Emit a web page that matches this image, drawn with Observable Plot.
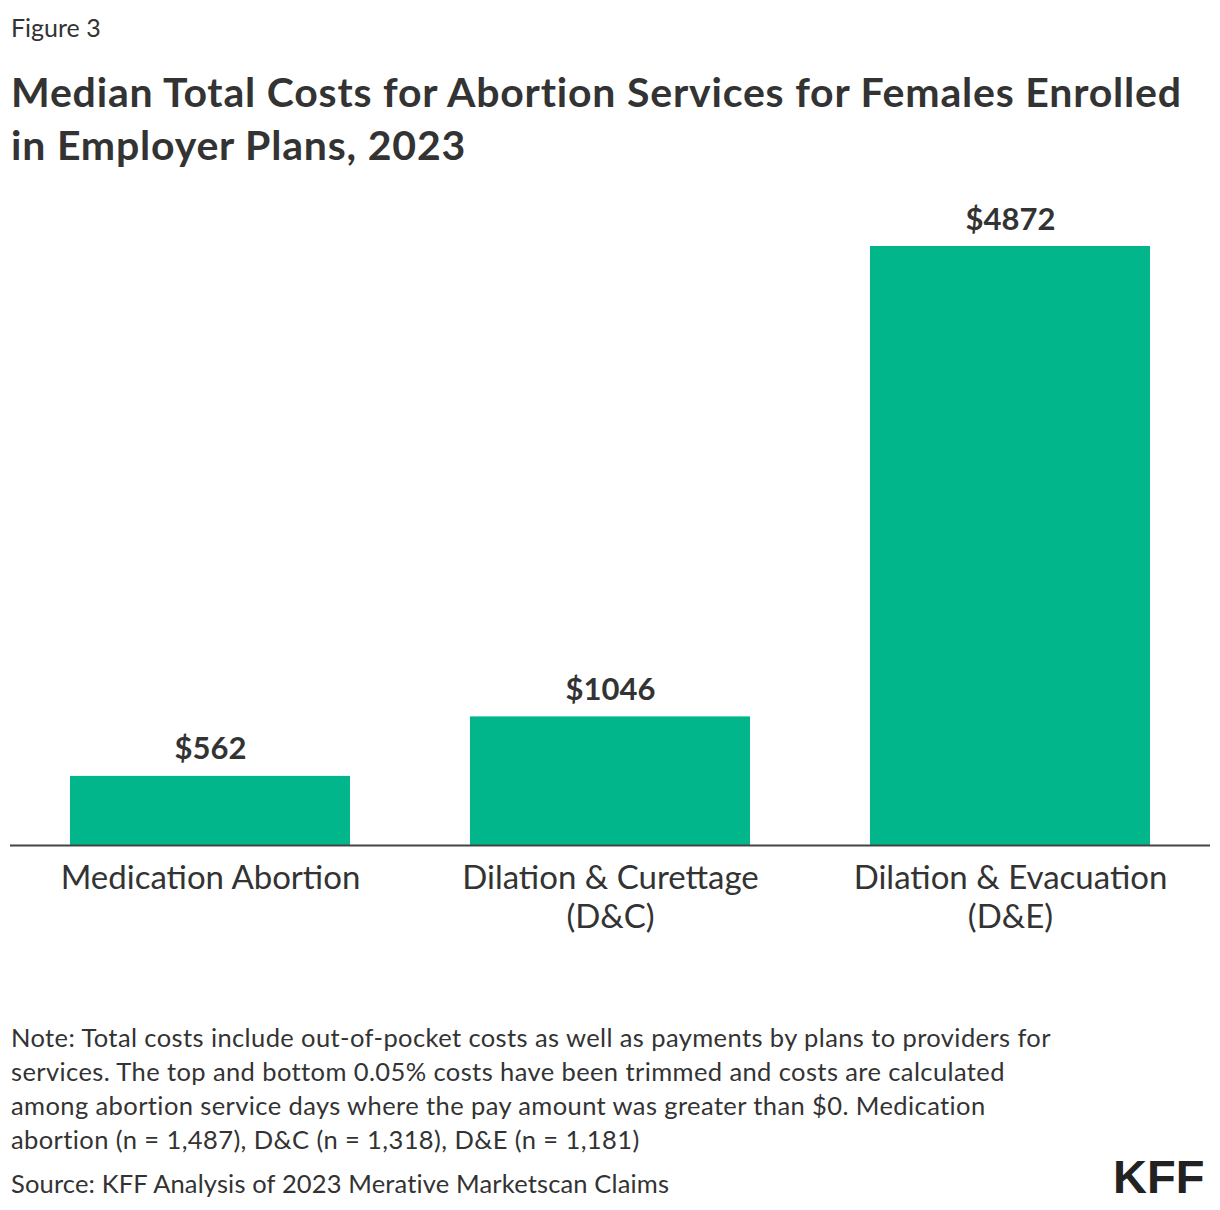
<!DOCTYPE html>
<html>
<head>
<meta charset="utf-8">
<script src="https://cdn.jsdelivr.net/npm/d3@7"></script>
<script src="https://cdn.jsdelivr.net/npm/@observablehq/plot@0.6"></script>
<style>
  html, body { margin: 0; padding: 0; background: #fff; }
  body { width: 1220px; height: 1210px; position: relative; font-family: Lato, "Noto Sans", sans-serif; color: #333; overflow: hidden; }
  .abs { position: absolute; left: 11px; white-space: nowrap; }
  #fig { top: 10px; font-size: 25px; line-height: 34px; color: #333; }
  #title { top: 65px; font-size: 41px; font-weight: 700; line-height: 53px; color: #333; letter-spacing: 0.8px; }
  #chart { position: absolute; left: 0; top: 180px; }
  #note { top: 1020px; font-size: 25.5px; line-height: 34px; color: #333; letter-spacing: 0.4px; }
  #source { top: 1166px; font-size: 25.5px; line-height: 34px; color: #333; letter-spacing: 0.15px; }
  #logo { position: absolute; left: 1113px; top: 1149px; font-family: "Liberation Sans", Arial, sans-serif; font-weight: 700; font-size: 47px; color: #222; letter-spacing: 0px; }
</style>
</head>
<body>
<div id="fig" class="abs">Figure 3</div>
<div id="title" class="abs">Median Total Costs for Abortion Services for Females Enrolled<br>in Employer Plans, 2023</div>
<div id="chart"></div>
<div id="note" class="abs">Note: Total costs include out-of-pocket costs as well as payments by plans to providers for<br>services. The top and bottom 0.05% costs have been trimmed and costs are calculated<br>among abortion service days where the pay amount was greater than $0. Medication<br>abortion (n = 1,487), D&amp;C (n = 1,318), D&amp;E (n = 1,181)</div>
<div id="source" class="abs">Source: KFF Analysis of 2023 Merative Marketscan Claims</div>
<div id="logo">KFF</div>
<script>
const categories = ["Medication Abortion", "Dilation & Curettage (D&C)", "Dilation & Evacuation (D&E)"];
const tickLabels = ["Medication Abortion", "Dilation & Curettage\n(D&C)", "Dilation & Evacuation\n(D&E)"];
const costs = [562, 1046, 4872];

const data = categories.map((c, i) => ({category: c, cost: costs[i]}));
const labelOf = new Map(categories.map((c, i) => [c, tickLabels[i]]));

const chart = Plot.plot({
  width: 1220,
  height: 780,
  marginLeft: 10,
  marginRight: 10,
  marginTop: 66,
  marginBottom: 115,
  style: {fontFamily: "Lato, 'Noto Sans', sans-serif", color: "#333", background: "white"},
  x: {domain: categories, paddingInner: 0.3, paddingOuter: 0.15, label: null},
  y: {domain: [0, 4872], axis: null},
  marks: [
    Plot.barY(data, {x: "category", y: "cost", fill: "#00B68A"}),
    Plot.ruleY([0], {stroke: "#444", strokeWidth: 2}),
    Plot.text(data, {x: "category", y: "cost", text: d => "$" + d.cost, lineAnchor: "bottom", dy: -17, fontSize: 31, fontWeight: 700, fill: "#333"}),
    Plot.axisX({tickSize: 0, tickPadding: 15, fontSize: 33, lineHeight: 1.2, tickFormat: d => labelOf.get(d), fill: "#333", label: null})
  ]
});
document.getElementById("chart").appendChild(chart);
</script>
</body>
</html>
